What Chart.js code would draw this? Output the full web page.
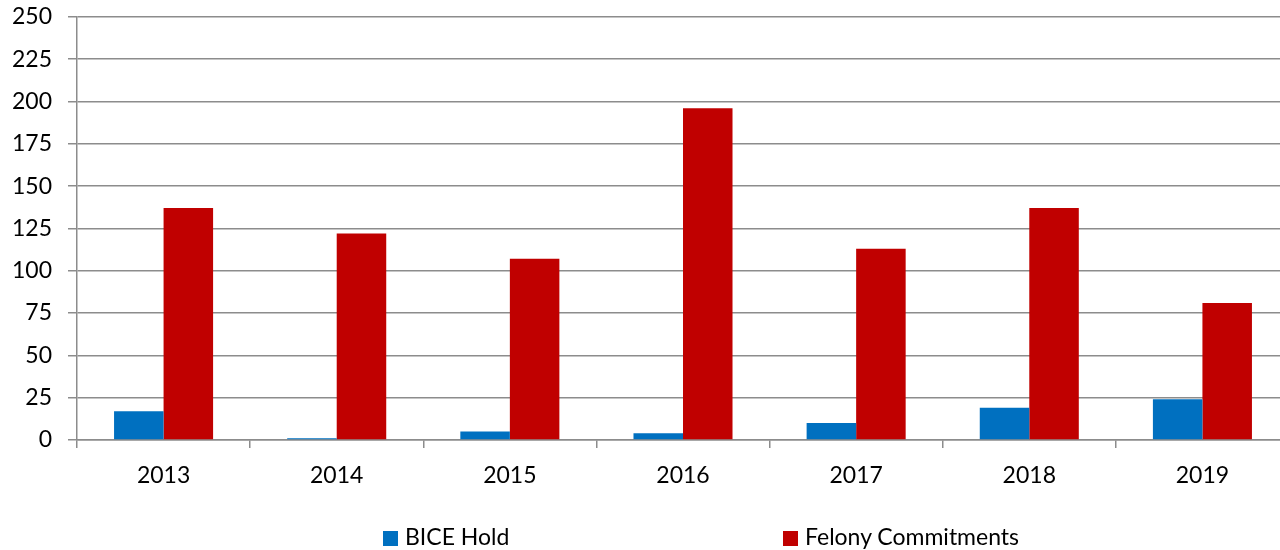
<!DOCTYPE html>
<html>
<head>
<meta charset="utf-8">
<script src="https://cdn.jsdelivr.net/npm/chart.js@4"></script>
<style>
  html, body { margin: 0; padding: 0; background: #fff; overflow: hidden; }
  #wrap { position: relative; width: 1280px; height: 550px; overflow: hidden; }
  #c { position: absolute; left: 0; top: -13px; }
  #legend { position: absolute; left: 0; top: 522px; width: 1280px; height: 28px; font-family: Lato, "Open Sans", sans-serif; font-size: 23px; color: #000; }
  .item { position: absolute; top: 0; line-height: 28px; white-space: nowrap; }
  .box { display: inline-block; width: 15px; height: 15px; margin-right: 7px; vertical-align: middle; position: relative; top: -1px; }
</style>
</head>
<body>
<div id="wrap">
  <canvas id="c" width="1289" height="563"></canvas>
  <div id="legend"></div>
</div>
<script>
const categories = ["2013", "2014", "2015", "2016", "2017", "2018", "2019"];
const seriesNames = ["BICE Hold", "Felony Commitments"];
const biceHold = [17, 1, 5, 4, 10, 19, 24];
const felonyCommitments = [137, 122, 107, 196, 113, 137, 81];
const seriesColors = ["#0070C0", "#C00000"];
const yMin = 0, yMax = 250, yStep = 25;
const legendX = [383, 783];

const FONT = 'Lato, "Open Sans", sans-serif';
const gridColor = '#8c8c8c';

new Chart(document.getElementById('c'), {
  type: 'bar',
  data: {
    labels: categories,
    datasets: [
      { label: seriesNames[0], data: biceHold, backgroundColor: seriesColors[0] },
      { label: seriesNames[1], data: felonyCommitments, backgroundColor: seriesColors[1] }
    ]
  },
  options: {
    responsive: false,
    animation: false,
    devicePixelRatio: 1,
    categoryPercentage: 0.572,
    barPercentage: 1.0,
    layout: { padding: { top: 4, right: 0, left: 0, bottom: 50 } },
    plugins: { legend: { display: false }, tooltip: { enabled: false } },
    scales: {
      x: {
        offset: true,
        grid: { display: true, drawOnChartArea: false, drawTicks: true, tickLength: 8, color: gridColor, lineWidth: 1.5, offset: true },
        border: { display: true, color: gridColor, width: 1.5 },
        ticks: { font: { family: FONT, size: 23 }, color: '#000', padding: 14, maxRotation: 0 },
        afterFit: (s) => { s.height = 60; }
      },
      y: {
        min: yMin, max: yMax,
        grid: { color: gridColor, lineWidth: 1.5, tickLength: 9, drawTicks: true },
        border: { display: true, color: gridColor, width: 1.5 },
        ticks: { stepSize: yStep, font: { family: FONT, size: 23 }, color: '#000', padding: 16 },
        afterFit: (s) => { s.width = 77; }
      }
    }
  }
});

const legend = document.getElementById('legend');
seriesNames.forEach((name, i) => {
  const it = document.createElement('div');
  it.className = 'item';
  it.style.left = legendX[i] + 'px';
  const b = document.createElement('span');
  b.className = 'box';
  b.style.background = seriesColors[i];
  it.appendChild(b);
  it.appendChild(document.createTextNode(name));
  legend.appendChild(it);
});
</script>
</body>
</html>
